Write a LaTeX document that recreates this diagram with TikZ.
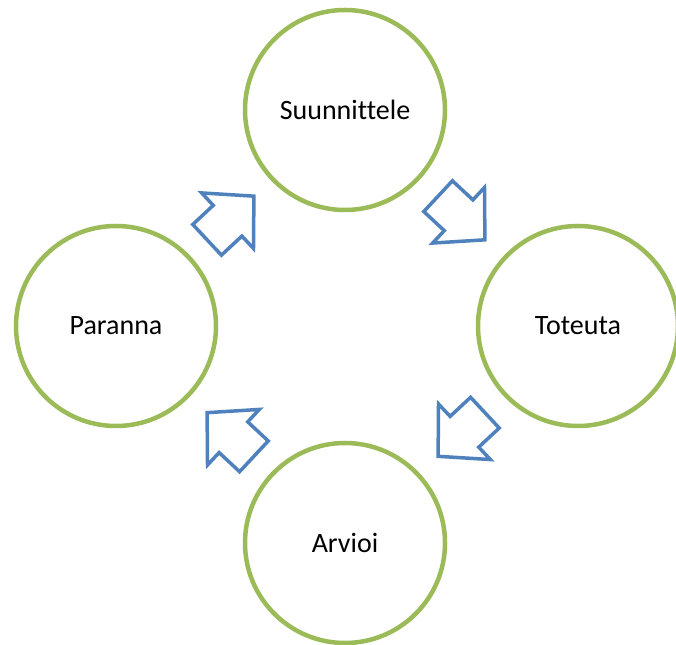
\documentclass[tikz,border=0pt]{standalone}
\usepackage{fontspec}
\setmainfont[Ligatures=NoCommon]{Carlito}
\usetikzlibrary{calc}
\definecolor{ringgreen}{HTML}{9BBB59}
\definecolor{flowblue}{HTML}{4F81BD}

\begin{document}
\begin{tikzpicture}[x=1pt,y=1pt,
    stage/.style={circle,draw=ringgreen,line width=4.5pt,minimum size=200pt,
      inner sep=0pt,font=\fontsize{28}{34}\selectfont},
    cyclearrow/.pic={\draw[flowblue,line width=3.5pt,line join=miter,fill=white]
      (-32,-21) -- (-4,-21) -- (-4,-38) -- (32,0) -- (-4,38) -- (-4,21) -- (-32,21) -- cycle;}]
    \useasboundingbox (0,0) rectangle (676,644);
    \node[stage] (sun) at (345,534) {Suunnittele};
    \node[stage] (tot) at (578,318) {Toteuta};
    \node[stage] (arv) at (345,101) {Arvioi};
    \node[stage] (par) at (116,318) {Paranna};
    % arrows halfway between the rings
    \pic[rotate=43] at ($(par)!.5!(sun)$) {cyclearrow};
    \pic[rotate=-43] at ($(sun)!.5!(tot)$) {cyclearrow};
    \pic[rotate=223] at ($(tot)!.5!(arv)$) {cyclearrow};
    \pic[rotate=137] at ($(arv)!.5!(par)$) {cyclearrow};
  \end{tikzpicture}
\end{document}
